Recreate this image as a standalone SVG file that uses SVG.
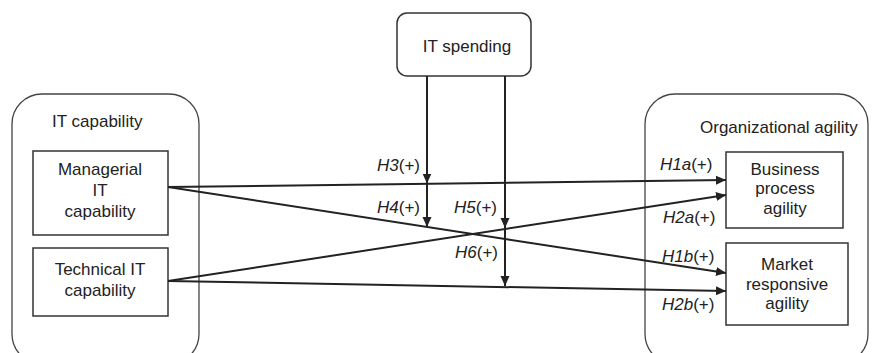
<svg xmlns="http://www.w3.org/2000/svg" width="875" height="353" viewBox="0 0 875 353">
<defs>
<style>
text{font-family:"Liberation Sans",Arial,sans-serif;font-size:17px;fill:#222}
.c{text-anchor:middle}
.box{fill:#fff;stroke:#333;stroke-width:1.5}
.cont{fill:none;stroke:#444;stroke-width:1.3}
.ln{stroke:#222;stroke-width:2;fill:none}
.i{font-style:italic}
</style>
<marker id="ah" viewBox="0 0 10 10" refX="10" refY="5" markerWidth="10" markerHeight="10" markerUnits="userSpaceOnUse" orient="auto">
<path d="M0,0.5 L10,5 L0,9.5 Z" fill="#222"/>
</marker>
</defs>
<rect width="875" height="353" fill="#fff"/>
<g id="it-capability">
<rect class="cont" x="12" y="94" width="187" height="270" rx="30"/>
<text x="52" y="127">IT capability</text>
</g>
<g id="org-agility">
<rect class="cont" x="645" y="94" width="223" height="270" rx="30"/>
<text x="700" y="133">Organizational agility</text>
</g>
<g id="it-spending">
<rect class="box" x="397" y="13" width="134" height="63" rx="10"/>
<text class="c" x="467" y="52">IT spending</text>
</g>
<g id="managerial">
<rect class="box" x="33" y="151" width="135" height="84"/>
<text class="c" x="100" y="175">Managerial</text>
<text class="c" x="100" y="196">IT</text>
<text class="c" x="100" y="217">capability</text>
</g>
<g id="technical">
<rect class="box" x="33" y="248" width="135" height="68"/>
<text class="c" x="100" y="275">Technical IT</text>
<text class="c" x="100" y="296">capability</text>
</g>
<g id="business">
<rect class="box" x="726" y="152" width="117" height="76"/>
<text class="c" x="785" y="175">Business</text>
<text class="c" x="785" y="194">process</text>
<text class="c" x="785" y="214">agility</text>
</g>
<g id="market">
<rect class="box" x="726" y="243" width="122" height="82"/>
<text class="c" x="787" y="270">Market</text>
<text class="c" x="787" y="290">responsive</text>
<text class="c" x="787" y="309">agility</text>
</g>
<g id="connectors">
<line class="ln" x1="168" y1="187" x2="726" y2="180" marker-end="url(#ah)"/>
<line class="ln" x1="168" y1="187" x2="726" y2="273" marker-end="url(#ah)"/>
<line class="ln" x1="168" y1="281" x2="726" y2="195" marker-end="url(#ah)"/>
<line class="ln" x1="168" y1="281" x2="726" y2="291" marker-end="url(#ah)"/>
<line class="ln" x1="427" y1="76" x2="427" y2="183.5" marker-end="url(#ah)"/>
<line class="ln" x1="427" y1="183" x2="427" y2="227" marker-end="url(#ah)"/>
<line class="ln" x1="505" y1="76" x2="505" y2="228" marker-end="url(#ah)"/>
<line class="ln" x1="505" y1="228" x2="505" y2="286" marker-end="url(#ah)"/>
</g>
<g id="labels">
<text x="377" y="171"><tspan class="i">H3</tspan>(+)</text>
<text x="377" y="213"><tspan class="i">H4</tspan>(+)</text>
<text x="454" y="213"><tspan class="i">H5</tspan>(+)</text>
<text x="455" y="258"><tspan class="i">H6</tspan>(+)</text>
<text x="660" y="170"><tspan class="i">H1a</tspan>(+)</text>
<text x="663" y="223"><tspan class="i">H2a</tspan>(+)</text>
<text x="662" y="262"><tspan class="i">H1b</tspan>(+)</text>
<text x="662" y="310"><tspan class="i">H2b</tspan>(+)</text>
</g>
</svg>
